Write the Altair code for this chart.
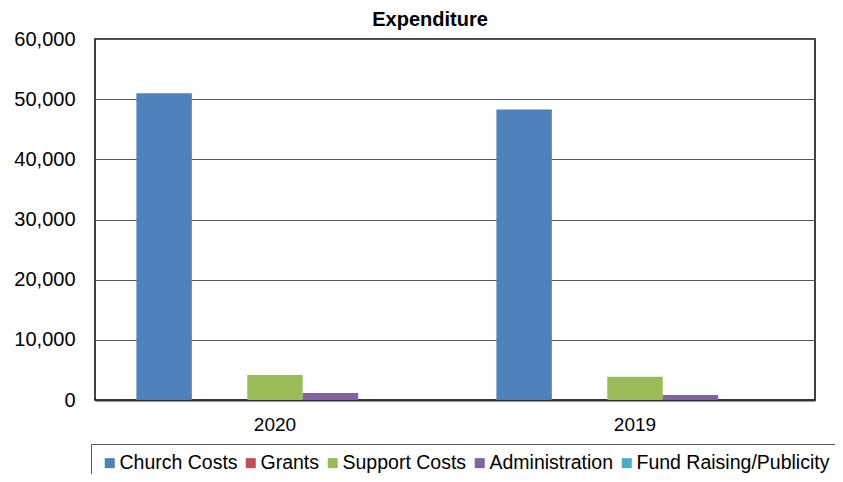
import altair as alt
import pandas as pd

years = ["2020", "2019"]
categories = ["Church Costs", "Grants", "Support Costs", "Administration", "Fund Raising/Publicity"]
values_2020 = [51000, 0, 4150, 1150, 0]
values_2019 = [48300, 0, 3850, 850, 0]
colors = ["#4F81BD", "#C0504D", "#9BBB59", "#8064A2", "#4BACC6"]
y_ticks = [0, 10000, 20000, 30000, 40000, 50000, 60000]

rows = []
for yr, vals in zip(years, [values_2020, values_2019]):
    for c, v in zip(categories, vals):
        rows.append({"Year": yr, "Category": c, "Value": v})
df = pd.DataFrame(rows)

FONT = "Liberation Sans"

chart = alt.Chart(df).mark_bar().encode(
    x=alt.X("Year:N", sort=years, title=None,
            scale=alt.Scale(paddingInner=0.23, paddingOuter=0.115),
            axis=alt.Axis(labelAngle=0, labelFontSize=19, labelFont=FONT, labelColor="#000",
                          ticks=False, labelPadding=15, domainColor="#333", domainWidth=2,
                          grid=False)),
    xOffset=alt.XOffset("Category:N", sort=categories,
                        scale=alt.Scale(paddingInner=0, paddingOuter=0)),
    y=alt.Y("Value:Q", title=None,
            scale=alt.Scale(domain=[0, 60000], nice=False),
            axis=alt.Axis(values=y_ticks, format=",d", labelFontSize=20, labelFont=FONT,
                          labelColor="#000", ticks=False, labelPadding=20, domain=False,
                          gridColor="#555555", gridWidth=1)),
    color=alt.Color("Category:N", sort=categories,
                    scale=alt.Scale(domain=categories, range=colors),
                    legend=alt.Legend(title=None, orient="none", legendX=-4, legendY=405,
                                      direction="horizontal", columns=5,
                                      symbolType="square", symbolSize=100,
                                      symbolStrokeWidth=0, symbolOpacity=1,
                                      labelFontSize=19.5, labelFont=FONT, labelColor="#000",
                                      labelOffset=0, columnPadding=3, padding=9,
                                      strokeColor="#555", labelLimit=400)),
).properties(
    width=720,
    height=361,
    title=alt.TitleParams("Expenditure", fontSize=20, font=FONT, fontWeight="bold",
                          color="#000", anchor="middle", dx=-25, dy=2, offset=1),
    autosize=alt.AutoSizeParams(type="none"),
    padding={"left": 87, "top": 31, "right": 20, "bottom": 74},
).configure_view(
    stroke="#000", strokeWidth=1.5
)

chart.save("out.html", embed_options={"renderer": "svg", "actions": False})
